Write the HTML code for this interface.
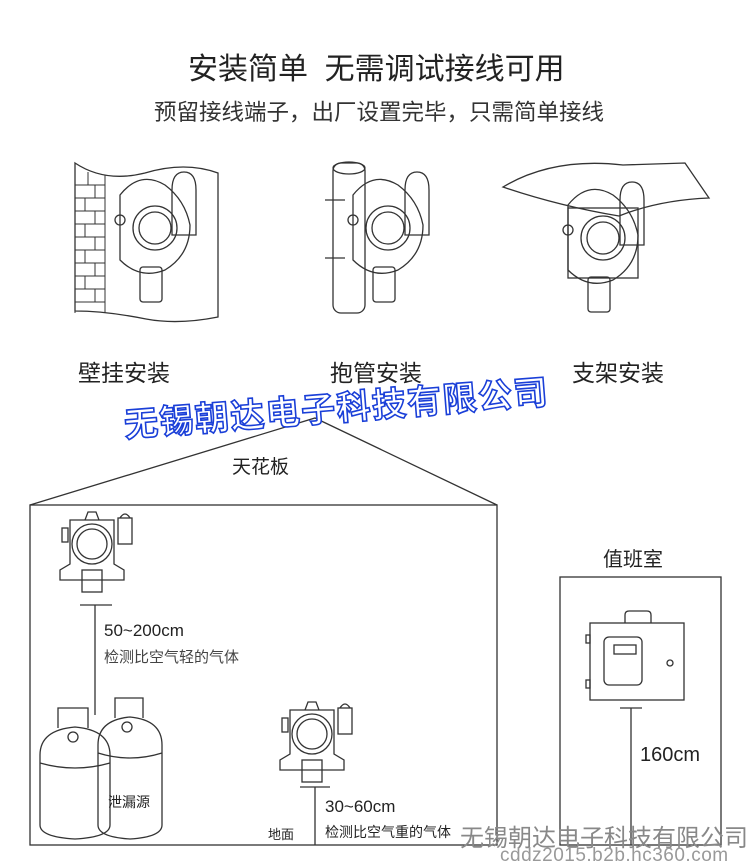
<!DOCTYPE html>
<html><head><meta charset="utf-8"><style>
body{margin:0;background:#fff;}
.w{position:relative;width:750px;height:868px;overflow:hidden;font-family:"Liberation Sans","Noto Sans CJK SC",sans-serif;color:#222;}
.t{position:absolute;white-space:nowrap;}
</style></head><body><div class="w">
<svg width="750" height="868" style="position:absolute;left:0;top:0" fill="none" stroke="#333" stroke-width="1.3">
<defs>
<g id="det">
 <rect x="-8" y="-2" width="6" height="14"/>
 <path d="M0 -10 h44 v44 l10 6 v10 h-64 v-10 l10 -6z"/>
 <path d="M15 -10 l3 -8 h8 l3 8"/>
 <circle cx="22" cy="14" r="20"/><circle cx="22" cy="14" r="15"/>
 <rect x="12" y="40" width="20" height="22"/>
 <rect x="48" y="-12" width="14" height="26"/><path d="M50 -12 q5 -8 10 0"/>
</g>
<g id="mnt">
 <path d="M0 0 q20 -25 45 -10 q20 15 25 40 q0 30 -25 45 q-25 10 -45 -10 z"/>
 <circle cx="35" cy="33" r="22"/><circle cx="35" cy="33" r="16"/>
 <rect x="20" y="72" width="22" height="35" rx="3"/>
 <path d="M52 -5 q0 -18 12 -18 q12 0 12 18 v45 h-24z"/>
 <circle cx="0" cy="25" r="5"/>
</g>
</defs>
<path d="M75 163 q30 20 70 10 q40 -12 73 0 v144 q-40 8 -72 2 q-40 -8 -71 -8z"/>
<g stroke-width="1">
<line x1="75" y1="175" x2="75" y2="313"/><line x1="105" y1="175" x2="105" y2="313"/>
<path d="M75 185h30M75 198h30M75 211h30M75 224h30M75 237h30M75 250h30M75 263h30M75 276h30M75 289h30M75 302h30"/>
<path d="M88 172v13M95 185v13M85 198v13M95 211v13M85 224v13M95 237v13M85 250v13M95 263v13M85 276v13M95 289v13"/>
</g>
<use href="#mnt" x="120" y="195"/>
<rect x="333" y="163" width="32" height="150" rx="8"/>
<ellipse cx="349" cy="168" rx="16" ry="6"/>
<path d="M325 200h20M325 258h20"/>
<use href="#mnt" x="353" y="195"/>
<path d="M503 187 q50 -30 120 -22 l62 -2 l24 35 q-50 2 -90 18 q-60 -10 -116 -29z"/>
<rect x="568" y="208" width="70" height="70"/>
<use href="#mnt" x="568" y="205"/>
<path d="M30 505 L315 418 L497 505"/>
<rect x="30" y="505" width="467" height="340"/>
<use href="#det" x="70" y="530"/>
<path d="M80 605h32M95 605v110"/>
<path d="M40 755 q0 -25 35 -28 q35 3 35 28 v70 q0 12 -35 14 q-35 -2 -35 -14z"/>
<path d="M98 745 q0 -25 32 -28 q32 3 32 28 v80 q0 12 -32 14 q-32 -2 -32 -14z"/>
<path d="M40 763 q35 10 70 0M98 753 q32 10 64 0"/>
<path d="M58 728 v-20 h30 v20M115 718 v-20 h28 v20"/>
<circle cx="73" cy="737" r="5"/><circle cx="127" cy="727" r="5"/>
<use href="#det" x="290" y="720"/>
<path d="M300 787h30M315 787v58"/>
<rect x="560" y="577" width="161" height="268"/>
<rect x="590" y="623" width="94" height="77"/>
<path d="M625 623 v-8 q0 -4 4 -4 h18 q4 0 4 4 v8"/>
<rect x="604" y="637" width="38" height="48" rx="5"/><rect x="614" y="645" width="22" height="9"/>
<circle cx="670" cy="663" r="3"/>
<rect x="586" y="635" width="4" height="8"/><rect x="586" y="680" width="4" height="8"/>
<path d="M620 708h22M631 708v137"/>
</svg>
<div class="t" style="left:188px;top:44px;font-size:30px;">安装简单&nbsp;&nbsp;无需调试接线可用</div>
<div class="t" style="left:154px;top:95px;font-size:22.5px;color:#333">预留接线端子，出厂设置完毕，只需简单接线</div>
<div class="t" style="left:78px;top:354px;font-size:23px;">壁挂安装</div>
<div class="t" style="left:330px;top:354px;font-size:23px;">抱管安装</div>
<div class="t" style="left:572px;top:354px;font-size:23px;">支架安装</div>
<div class="t" style="left:124px;top:398px;font-size:34px;font-weight:bold;color:#fff;-webkit-text-stroke:1.6px #1a3fd8;transform:rotate(-4.5deg);transform-origin:0 50%;letter-spacing:1.5px">无锡朝达电子科技有限公司</div>
<div class="t" style="left:232px;top:452px;font-size:19px;">天花板</div>
<div class="t" style="left:104px;top:621px;font-size:17px;">50~200cm</div>
<div class="t" style="left:104px;top:646px;font-size:15px;color:#444">检测比空气轻的气体</div>
<div class="t" style="left:108px;top:792px;font-size:14px;">泄漏源</div>
<div class="t" style="left:268px;top:824px;font-size:13px;">地面</div>
<div class="t" style="left:325px;top:797px;font-size:17px;">30~60cm</div>
<div class="t" style="left:325px;top:822px;font-size:14px;">检测比空气重的气体</div>
<div class="t" style="left:603px;top:543px;font-size:20px;">值班室</div>
<div class="t" style="left:640px;top:744px;font-size:20px;">160cm</div>
<div class="t" style="left:460px;top:818px;font-size:24px;color:#888;">无锡朝达电子科技有限公司</div>
<div class="t" style="left:500px;top:845px;font-size:19px;color:#999;letter-spacing:0.5px">cddz2015.b2b.hc360.com</div>
</div></body></html>
